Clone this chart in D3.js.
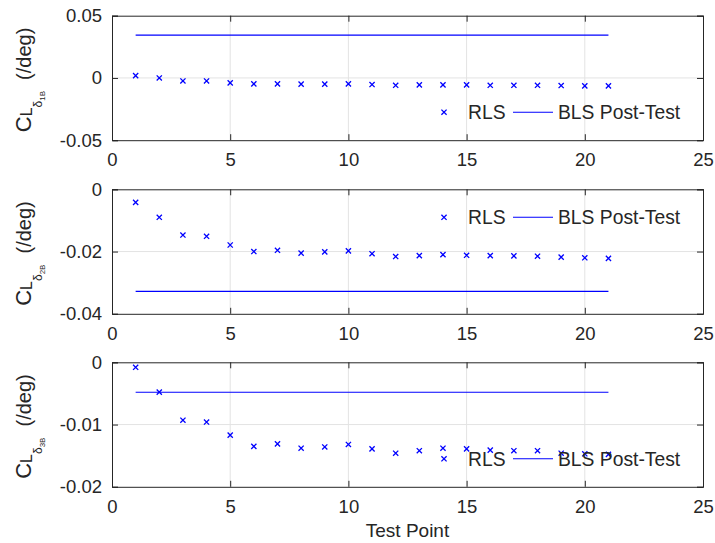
<!DOCTYPE html>
<html>
<head>
<meta charset="utf-8">
<script src="https://cdn.jsdelivr.net/npm/d3@7"></script>
<style>
	body { margin: 0; background: #fff; }
	text { font-family: "Liberation Sans", Arial, sans-serif; fill: #262626; }
</style>
</head>
<body>
<div id="fig"></div>
<script>
var testPoint = [ 1, 2, 3, 4, 5, 6, 7, 8, 9, 10, 11, 12, 13, 14, 15, 16, 17, 18, 19, 20, 21 ];

var rls1B = [ 0.0019, 0.0000, -0.0024, -0.0024, -0.0040, -0.0048, -0.0048, -0.0050, -0.0050, -0.0048,
	-0.0053, -0.0059, -0.0056, -0.0056, -0.0056, -0.0059, -0.0059, -0.0059, -0.0061, -0.0064, -0.0064 ];
var rls2B = [ -0.0042, -0.0090, -0.0147, -0.0151, -0.0179, -0.0200, -0.0196, -0.0205, -0.0201, -0.0198,
	-0.0207, -0.0216, -0.0213, -0.0210, -0.0212, -0.0213, -0.0214, -0.0215, -0.0218, -0.0220, -0.0222 ];
var rls3B = [ -0.0008, -0.0048, -0.0093, -0.0096, -0.0117, -0.0135, -0.0131, -0.0138, -0.0136, -0.0132,
	-0.0139, -0.0146, -0.0142, -0.0138, -0.0139, -0.0141, -0.0142, -0.0142, -0.0146, -0.0147, -0.0148 ];

var bls1B = 0.0344;
var bls2B = -0.0328;
var bls3B = -0.0048;

var xTicks = [ 0, 5, 10, 15, 20, 25 ];
var yTicks1 = [ -0.05, 0, 0.05 ];
var yTicks2 = [ -0.04, -0.02, 0 ];
var yTicks3 = [ -0.02, -0.01, 0 ];

var subLabels = [ "1B", "2B", "3B" ];
var legendNames = [ "RLS", "BLS Post-Test" ];

var W = 715, H = 543;
var left = 112, right = 703;
var panelTops = [ 15.7, 189.3, 362.3 ];
var panelH = 124.5;
var blue = "#0000ff";

var svg = d3.select("#fig").append("svg")
	.attr("width", W)
	.attr("height", H);

var panels = [
	{ rls: rls1B, bls: bls1B, ticks: yTicks1, domain: [-0.05, 0.05], legendPos: "bottom" },
	{ rls: rls2B, bls: bls2B, ticks: yTicks2, domain: [-0.04, 0], legendPos: "top" },
	{ rls: rls3B, bls: bls3B, ticks: yTicks3, domain: [-0.02, 0], legendPos: "bottom" }
];

var x = d3.scaleLinear().domain([0, 25]).range([left, right]);

function fmt(d) {
	if (Math.abs(d) < 1e-12) return "0";
	return String(+d.toFixed(4));
}

function cross(g, cx, cy, r) {
	g.append("path")
		.attr("d", "M" + (cx - r) + "," + (cy - r) + "L" + (cx + r) + "," + (cy + r) +
			"M" + (cx - r) + "," + (cy + r) + "L" + (cx + r) + "," + (cy - r))
		.attr("stroke", blue)
		.attr("stroke-width", 1.3)
		.attr("fill", "none");
}

panels.forEach(function(p, i) {
	var top = panelTops[i];
	var y = d3.scaleLinear().domain(p.domain).range([top + panelH, top]);
	var g = svg.append("g");

	// grid
	g.selectAll(".gx").data(xTicks.slice(1, -1)).enter().append("line")
		.attr("x1", d => x(d)).attr("x2", d => x(d))
		.attr("y1", top).attr("y2", top + panelH)
		.attr("stroke", "#e3e3e3").attr("stroke-width", 1);
	g.selectAll(".gy").data(p.ticks.slice(1, -1)).enter().append("line")
		.attr("x1", left).attr("x2", right)
		.attr("y1", d => y(d)).attr("y2", d => y(d))
		.attr("stroke", "#e3e3e3").attr("stroke-width", 1);

	// axes
	var xAxis = d3.axisBottom(x).tickValues(xTicks).tickSize(-6).tickPadding(10).tickFormat(fmt);
	var yAxis = d3.axisLeft(y).tickValues(p.ticks).tickSize(-6).tickPadding(10).tickFormat(fmt);

	var gx = g.append("g").attr("transform", "translate(0," + (top + panelH) + ")").call(xAxis);
	var gy = g.append("g").attr("transform", "translate(" + left + ",0)").call(yAxis);
	var gxt = g.append("g").attr("transform", "translate(0," + top + ")")
		.call(d3.axisTop(x).tickValues(xTicks).tickSize(-6).tickFormat(""));
	var gyr = g.append("g").attr("transform", "translate(" + right + ",0)")
		.call(d3.axisRight(y).tickValues(p.ticks).tickSize(-6).tickFormat(""));

	[gx, gy, gxt, gyr].forEach(function(a) {
		a.selectAll("path").attr("stroke", "#262626").attr("stroke-width", 1);
		a.selectAll("line").attr("stroke", "#262626");
		a.selectAll("text").style("font-size", "18.5px").attr("fill", "#262626")
			.style("font-family", "'Liberation Sans', Arial, sans-serif");
	});
	gx.selectAll("text").attr("dy", "0.88em");

	// BLS line
	var line = d3.line().x(d => x(d)).y(() => y(p.bls));
	g.append("path")
		.datum([testPoint[0], testPoint[testPoint.length - 1]])
		.attr("d", line)
		.attr("stroke", blue).attr("stroke-width", 1.1).attr("fill", "none");

	// RLS markers
	var mg = g.append("g");
	p.rls.forEach(function(v, j) { cross(mg, x(testPoint[j]), y(v), 2.6); });

	// legend
	var ly = p.legendPos === "bottom" ? top + panelH - 28 : top + 28;
	var lg = g.append("g");
	cross(lg, right - 259, ly, 2.6);
	lg.append("text").attr("x", right - 235).attr("y", ly).attr("dy", "0.36em")
		.style("font-size", "19.3px").text(legendNames[0]);
	lg.append("line").attr("x1", right - 190).attr("x2", right - 150)
		.attr("y1", ly).attr("y2", ly).attr("stroke", blue).attr("stroke-width", 1.1);
	lg.append("text").attr("x", right - 145).attr("y", ly).attr("dy", "0.36em")
		.style("font-size", "19.3px").text(legendNames[1]);

	// y label
	var lab = svg.append("text")
		.attr("transform", "translate(31," + (top + panelH / 2 + 2) + ") rotate(-90)")
		.attr("text-anchor", "middle")
		.style("font-size", "20px");
	lab.append("tspan").style("font-size", "22px").text("C");
	lab.append("tspan").attr("dy", 1).style("font-size", "16px").text("L");
	lab.append("tspan").attr("dy", 10).style("font-size", "12px").text("δ");
	lab.append("tspan").attr("dy", 3).style("font-size", "8px").text(subLabels[i]);
	lab.append("tspan").attr("dy", -14).attr("dx", 11).style("font-size", "20px").text("(/deg)");
});

svg.append("text")
	.attr("x", (left + right) / 2)
	.attr("y", 537)
	.attr("text-anchor", "middle")
	.style("font-size", "19px")
	.text("Test Point");
</script>
</body>
</html>
